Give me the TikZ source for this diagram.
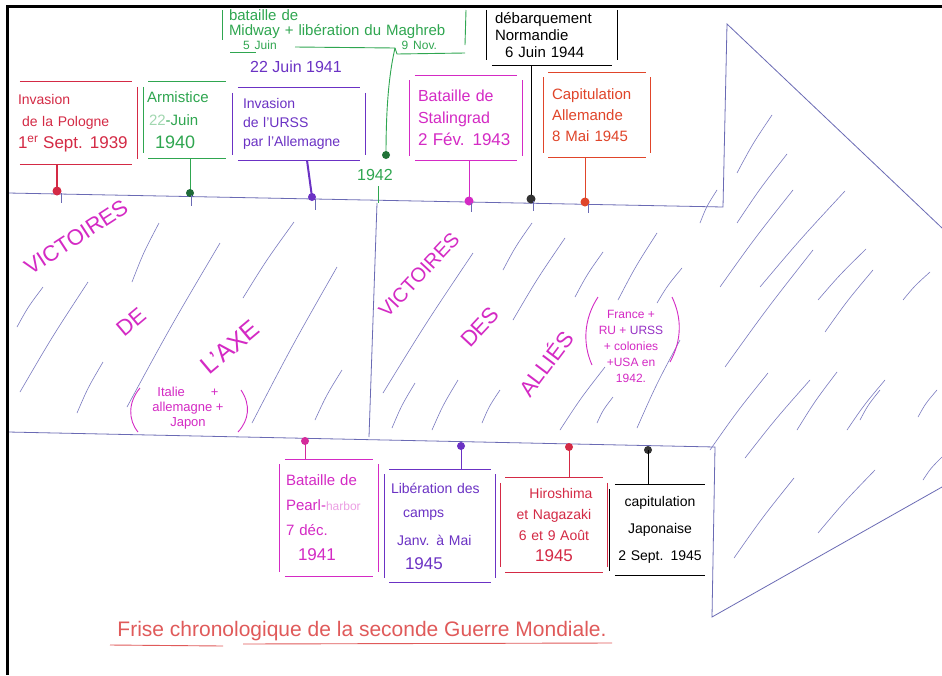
\documentclass[tikz,border=0pt]{standalone}
\usepackage{fontspec}
\usetikzlibrary{calc}
\setmainfont{Liberation Sans}
\definecolor{crim}{HTML}{D42A45}
\definecolor{grn}{HTML}{2FA650}
\definecolor{dgrn}{HTML}{1E6A38}
\definecolor{purp}{HTML}{6B32C4}
\definecolor{mag}{HTML}{D42AC4}
\definecolor{pink}{HTML}{D42A9A}
\definecolor{ora}{HTML}{E0452A}
\definecolor{band}{HTML}{6A6AB4}
\definecolor{hatch}{HTML}{7A7AC0}
\definecolor{ttl}{HTML}{E05A5A}
\newcommand\sideT[2]{\draw[#2,line width=0.9pt] ([xshift=5pt]#1.north west) -- ([xshift=-5pt]#1.north east);}
\newcommand\sideB[2]{\draw[#2,line width=0.9pt] ([xshift=5pt]#1.south west) -- ([xshift=-5pt]#1.south east);}
\newcommand\sideL[2]{\draw[#2,line width=0.9pt] ([yshift=-5pt]#1.north west) -- ([yshift=5pt]#1.south west);}
\newcommand\sideR[2]{\draw[#2,line width=0.9pt] ([yshift=-5pt]#1.north east) -- ([yshift=5pt]#1.south east);}
\newcommand\fsz[2]{\fontsize{#1}{#2}\selectfont}
\tikzset{
  evbox/.style={inner sep=0pt, align=left},
  bandline/.style={draw=band, line width=0.8pt},
  hatchline/.style={draw=hatch, line width=0.6pt},
  bigword/.style={text=mag, inner sep=0pt, font=\fsz{22}{24}},
  stem/.style={line width=1.2pt},
  tick/.style={draw=band, line width=0.8pt},
  framed/.style={line width=3pt, draw=black}
}
\begin{document}
\begin{tikzpicture}[x=1pt,y=-1pt]
\useasboundingbox (0,0) rectangle (942,675);
\fill[white] (0,0) rectangle (942,675);

% ---------- arrow band ----------
\coordinate (TL) at (8,193);
\coordinate (TR) at (723,207);
\coordinate (AT) at (727,24);
\coordinate (AU) at (942,228);
\coordinate (BL) at (8,432);
\coordinate (BR) at (715,447);
\coordinate (BV) at (712,617);
\coordinate (AD) at (942,487);
\draw[bandline] (TL) -- (TR) -- (AT) -- (AU);
\draw[bandline] (BL) -- (BR) -- (BV) -- (AD);
\coordinate (MT) at (377,203);
\coordinate (MB) at (369,437);
\draw[bandline] (MT) -- (MB);

% hatching
\foreach \a/\b/\c/\d in {
 43/287/17/327, 88/282/20/392, 159/223/132/282, 220/243/127/407,
 103/362/77/413, 294/222/243/298, 337/267/252/423, 342/370/315/420,
 473/253/383/393, 532/223/503/270, 565/238/513/320, 603/252/575/297,
 657/233/618/300, 682/268/657/303, 415/383/392/428, 458/380/432/430,
 500/390/482/423, 605/367/560/430, 613/397/597/423, 680/340/637/428,
 717/190/700/223, 793/190/720/287, 813/250/725/367, 873/270/825/332,
 768/373/710/450, 837/372/797/430, 880/390/860/420,
 772/115/737/173, 787/154/737/223, 845/191/760/287, 866/249/818/300,
 930/272/903/300, 810/380/745/458, 885/380/847/430, 937/390/918/417,
 794/478/734/558, 875/470/818/533, 942/457/923/480}
  \draw[hatchline] (\a,\b) .. controls ($(\a,\b)!0.5!(\c,\d)+(-2,0)$) .. (\c,\d);

% ---------- frame ----------
\draw[framed] (942,6) -- (7,6) -- (7,675);

% ---------- top events ----------
% 1 Pologne
\node[evbox, text=crim, minimum width=122, minimum height=82, text width=116, font=\fsz{14}{22}] (b1) at (76,123)
  {Invasion\\\hspace*{4pt}de la Pologne\\{\fsz{17}{22}1\textsuperscript{er} Sept. 1939}};
\sideT{b1}{crim}\sideB{b1}{crim}\sideR{b1}{crim}
\coordinate (d1) at (57,191);
\draw[stem,crim,line width=2.2pt] (b1.south -| d1) -- (d1);
\fill[crim] (d1) circle (4.5);
\draw[tick] (61,193) -- (61,203);

% 2 Armistice
\node[evbox, text=grn, minimum width=87, minimum height=76, text width=80, font=\fsz{15}{23}] (b2) at (187,120)
  {Armistice\\\hspace*{2pt}{\color{grn!45}22}-Juin\\\hspace*{8pt}{\fsz{18}{23}1940}};
\sideT{b2}{grn}\sideB{b2}{grn}\sideL{b2}{grn}
\coordinate (d2) at (190,193);
\draw[grn,line width=1pt] (b2.south -| d2) -- (d2);
\fill[dgrn] (d2) circle (4);
\draw[tick] (191,195) -- (191,206);

% 3 URSS
\node[evbox, text=purp, minimum width=132, minimum height=72, text width=112, font=\fsz{14}{19}] (b3) at (299,124)
  {Invasion\\de l'URSS\\par l'Allemagne};
\sideT{b3}{purp}\sideB{b3}{purp}\sideL{b3}{purp}\sideR{b3}{purp}
\node[text=purp, font=\fsz{16}{18}, inner sep=0pt] (date3) at (296,67) {22 Juin 1941};
\coordinate (d3) at (312,197);
\draw[stem,purp,line width=2pt] (b3.south -| 307,0) -- (d3);
\fill[purp] (d3) circle (4);
\draw[tick] (315,199) -- (315,210);

% 4 Midway / Maghreb
\node[evbox, text=grn, text width=232, font=\fsz{15}{15}] (b4) at (345,30)
  {bataille de\\Midway + libération du Maghreb\\[-1pt]{\fsz{12}{13}\hspace*{14pt}5 Juin\hfill 9 Nov.\hspace*{24pt}}};
\draw[grn,line width=0.9pt] (222,10) -- (222,40);
\draw[grn,line width=0.9pt] (466,10) -- (465,45);
\draw[grn,line width=0.9pt] (230,52) -- (256,52);
\coordinate (mwc) at (395,48);
\draw[grn,line width=0.9pt] (295,47) -- (mwc) -- (397,54) -- (465,53);
\coordinate (d4) at (386,155);
\draw[grn,line width=0.9pt] (mwc) .. controls (390,70) and (386,100) .. (d4);
\fill[grn!70!black] (d4) circle (4);
\node[text=grn, font=\fsz{16}{18}, inner sep=0pt] (y1942) at (375,175) {1942};
\draw[grn,line width=0.9pt] (378,186) -- (378,203);

% 5 Stalingrad
\node[evbox, text=mag, minimum width=112, minimum height=85, text width=96, font=\fsz{16}{22}] (b5) at (466,118)
  {Bataille de\\Stalingrad\\{\fsz{17}{22}2 Fév. 1943}};
\sideT{b5}{mag}\sideB{b5}{mag}\sideL{b5}{mag}\sideR{b5}{mag}
\coordinate (d5) at (469,201);
\draw[mag,line width=1pt] (b5.south -| d5) -- (d5);
\fill[mag] (d5) circle (4.5);
\draw[tick] (471,203) -- (471,212);

% 6 Normandie
\node[evbox, text=black, minimum width=130, minimum height=60, text width=114, font=\fsz{15}{17}] (b6) at (552,35)
  {débarquement\\Normandie\\\hspace*{10pt}6 Juin 1944};
\sideB{b6}{black}\sideL{b6}{black}\sideR{b6}{black}
\coordinate (d6) at (531,199);
\draw[black,line width=1pt] (b6.south -| d6) -- (d6);
\fill[black!80] (d6) circle (4.5);
\draw[tick] (533,201) -- (533,211);

% 7 Capitulation Allemande
\node[evbox, text=ora, minimum width=107, minimum height=85, text width=90, font=\fsz{15}{21}] (b7) at (597,115)
  {Capitulation\\Allemande\\8 Mai 1945};
\sideT{b7}{ora}\sideB{b7}{ora}\sideL{b7}{ora}\sideR{b7}{ora}
\coordinate (d7) at (585,202);
\draw[ora,line width=1pt] (b7.south -| d7) -- (d7);
\fill[ora] (d7) circle (4.5);
\draw[tick] (588,204) -- (588,213);

% ---------- band words ----------
\node[bigword, rotate=33] (vic1) at (76,237) {VICTOIRES};
\node[bigword, rotate=40] (de) at (131,322) {DE};
\node[bigword, rotate=40, font=\fsz{25}{27}] (axe) at (230,347) {L'AXE};
\node[text=mag, font=\fsz{13}{15}, align=center, inner sep=0pt] (ita) at (188,408)
  {Italie\hspace*{26pt}+\\allemagne +\\Japon};
\draw[mag,line width=0.9pt] (140,388) .. controls (128,402) and (128,420) .. (138,432);
\draw[mag,line width=0.9pt] (241,390) .. controls (251,405) and (249,420) .. (238,432);

\node[bigword, rotate=47, font=\fsz{20}{22}] (vic2) at (419,275) {VICTOIRES};
\node[bigword, rotate=47] (des) at (480,327) {DES};
\node[bigword, rotate=53] (allies) at (545,363) {ALLIÉS};
\node[text=mag, font=\fsz{12}{16}, align=center, inner sep=0pt] (alist) at (631,346)
  {France +\\RU + {\color{purp!60!mag}URSS}\\+ colonies\\+USA en\\1942.};
\draw[mag,line width=0.9pt] (598,297) .. controls (583,320) and (583,345) .. (592,365);
\draw[mag,line width=0.9pt] (672,297) .. controls (682,318) and (682,340) .. (670,362);

% ---------- bottom events ----------
\node[evbox, text=mag, minimum width=98, minimum height=117, text width=86, font=\fsz{15}{25}] (p1) at (329,518)
  {Bataille de\\Pearl-{\color{mag!45}\fsz{12}{25}harbor}\\7 déc.\\\hspace*{12pt}{\fsz{17}{25}1941}};
\sideT{p1}{mag}\sideB{p1}{mag}\sideL{p1}{mag}\sideR{p1}{mag}
\coordinate (e1) at (305,441);
\fill[pink] (e1) circle (4);
\draw[pink,line width=1pt] (e1) -- (p1.north -| e1);

\node[evbox, text=purp, minimum width=111, minimum height=113, text width=98, font=\fsz{14}{24}] (p2) at (440,526)
  {Libération des\\\hspace*{12pt}camps\\[4pt]\hspace*{6pt}Janv. à Mai\\\hspace*{14pt}{\fsz{17}{24}1945}};
\sideT{p2}{purp}\sideB{p2}{purp}\sideL{p2}{purp}\sideR{p2}{purp}
\coordinate (e2) at (461,446);
\fill[purp] (e2) circle (4);
\draw[purp,line width=1pt] (e2) -- (p2.north -| e2);

\node[evbox, text=crim, align=center, minimum width=107, minimum height=94, text width=96, font=\fsz{14}{21}] (p3) at (554,525)
  {\hspace*{14pt}Hiroshima\\et Nagazaki\\6 et 9 Août\\{\fsz{17}{22}1945}};
\sideT{p3}{crim}\sideB{p3}{crim}\sideL{p3}{crim}\sideR{p3}{crim}
\coordinate (e3) at (569,447);
\fill[crim] (e3) circle (4);
\draw[crim,line width=1pt] (e3) -- (p3.north -| e3);

\node[evbox, text=black, align=center, minimum width=100, minimum height=91, text width=96, font=\fsz{14}{27}] (p4) at (660,530)
  {capitulation\\Japonaise\\2 Sept. 1945};
\sideT{p4}{black}\sideB{p4}{black}\sideL{p4}{black}
\coordinate (e4) at (648,450);
\fill[black!80] (e4) circle (4);
\draw[black,line width=1pt] (e4) -- (p4.north -| e4);

% ---------- title ----------
\node[text=ttl, font=\fsz{21}{23}, inner sep=0pt] (title) at (362,631) {Frise chronologique de la seconde Guerre Mondiale.};
\draw[ttl,line width=0.9pt] (110,645) -- (223,646);
\draw[ttl,line width=0.9pt] (243,644) -- (612,643);
\end{tikzpicture}
\end{document}
